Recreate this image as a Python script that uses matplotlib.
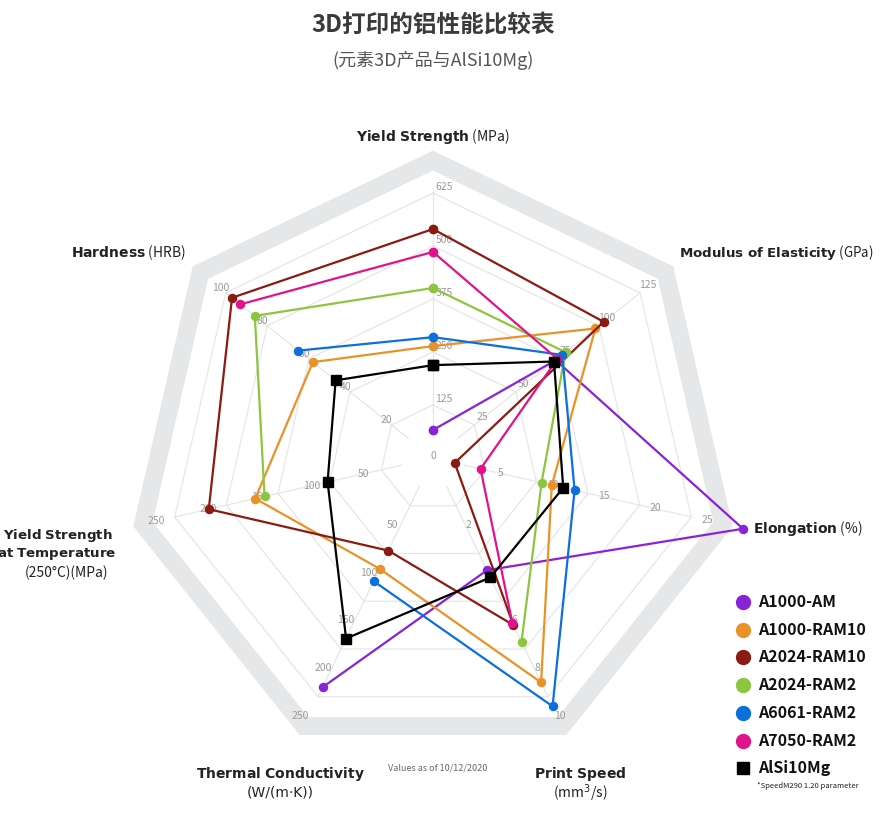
import numpy as np
import matplotlib
matplotlib.use("Agg")
import matplotlib.pyplot as plt
from matplotlib.patches import Polygon

plt.rcParams['font.family'] = ['Noto Sans CJK SC', 'DejaVu Sans']

axes_names = ["Yield Strength", "Modulus of Elasticity", "Elongation", "Print Speed",
              "Thermal Conductivity", "Yield Strength\nat Temperature", "Hardness"]
axes_units = ["(MPa)", "(GPa)", "(%)", "(mm$^3$/s)", "(W/(m·K))", "(250°C)(MPa)", "(HRB)"]
axes_max = [625, 125, 25, 10, 250, 250, 100]
tick_labels = [["125", "250", "375", "500", "625"],
               ["25", "50", "75", "100", "125"],
               ["5", "10", "15", "20", "25"],
               ["2", "4", "6", "8", "10"],
               ["50", "100", "150", "200", "250"],
               ["50", "100", "150", "200", "250"],
               ["20", "40", "60", "80", "100"]]

series_names = ["A1000-AM", "A1000-RAM10", "A2024-RAM10", "A2024-RAM2",
                "A6061-RAM2", "A7050-RAM2", "AlSi10Mg"]
# order: yield, modulus, elongation, speed, thermal, yield@T, hardness (None = missing)
a1000_am = [66, 74, 30, 4.7, 240, None, None]
a1000_ram10 = [264, 98, 11.5, 9.4, 116, 172, 58]
a2024_ram10 = [540, 103, 2.1, 7.0, 97, 217, 97]
a2024_ram2 = [401, 80, 10.5, 7.7, None, 163, 86]
a6061_ram2 = [285, 78, 13.7, 10.4, 129, None, 65]
a7050_ram2 = [486, 75, 4.6, 6.9, None, None, 93]
alsi10mg = [219, 73, 12.6, 5.0, 189, 102, 47]
series_values = [a1000_am, a1000_ram10, a2024_ram10, a2024_ram2, a6061_ram2, a7050_ram2, alsi10mg]
colors = ["#8a22d8", "#ea9228", "#8b1a12", "#8cc63f", "#0b6fdc", "#e0128c", "#000000"]

CX, CY, R = 433, 458, 265
n = 7
angles = np.deg2rad(90 - np.arange(n) * 360 / n)

def pos(i, frac):
    return CX + np.cos(angles[i]) * R * frac, CY - np.sin(angles[i]) * R * frac

fig = plt.figure(figsize=(8.89, 8.19), dpi=100)
ax = fig.add_axes([0, 0, 1, 1])
ax.set_xlim(0, 889)
ax.set_ylim(819, 0)
ax.axis('off')

# gray band
outer = [pos(i % n, 1.16) for i in range(n + 1)]
inner = [pos(i % n, 1.085) for i in range(n + 1)]
band = np.array(outer + inner[::-1])
ax.add_patch(Polygon(band, closed=True, fc="#e6e7e9", ec="none", zorder=0))

# grid
for k in range(1, 6):
    pts = np.array([pos(i % n, k / 5) for i in range(n + 1)])
    ax.plot(pts[:, 0], pts[:, 1], color="#e6e6e6", lw=0.9, zorder=1)
for i in range(n):
    p0 = pos(i, 0.12)
    p1 = pos(i, 1.0)
    ax.plot([p0[0], p1[0]], [p0[1], p1[1]], color="#e6e6e6", lw=0.9, zorder=1)

# tick labels
offsets = [(11, -6), (8, -8), (16, 3), (12, 19), (-18, 19), (-18, 4), (-5, -5)]
ax.text(CX, CY - 2, "0", ha="center", va="center", fontsize=7.5, color="#9a9a9a", zorder=2)
for i in range(n):
    for k in range(5):
        x, y = pos(i, (k + 1) / 5)
        ax.text(x + offsets[i][0], y + offsets[i][1], tick_labels[i][k], ha="center", va="center",
                fontsize=7.5, color="#9a9a9a", zorder=2)

# series
for name, vals, c in zip(series_names, series_values, colors):
    xs, ys = [], []
    for i, v in enumerate(list(vals) + [vals[0]]):
        ii = i % n
        if v is None:
            xs.append(np.nan); ys.append(np.nan)
        else:
            x, y = pos(ii, v / axes_max[ii])
            xs.append(x); ys.append(y)
    mk = "s" if name == "AlSi10Mg" else "o"
    ms = 6.5 if mk == "s" else 5.8
    ax.plot(xs, ys, color=c, lw=1.6, marker=mk, ms=ms, zorder=3)

fs = 10
ax.text(433, 137, r"$\bf{Yield\ Strength}$ (MPa)", ha="center", va="center", fontsize=fs, color="#222")
ax.text(679, 253, r"$\bf{Modulus\ of\ Elasticity}$ (GPa)", ha="left", va="center", fontsize=9.6, color="#222")
ax.text(753, 528, r"$\bf{Elongation}$ (%)", ha="left", va="center", fontsize=fs, color="#222")
ax.text(580, 774, r"$\bf{Print\ Speed}$", ha="center", va="center", fontsize=fs, color="#222")
ax.text(580, 793, r"(mm$^3$/s)", ha="center", va="center", fontsize=fs, color="#222")
ax.text(280, 774, r"$\bf{Thermal\ Conductivity}$", ha="center", va="center", fontsize=fs, color="#222")
ax.text(280, 793, "(W/(m·K))", ha="center", va="center", fontsize=fs, color="#222", family="DejaVu Sans")
ax.text(113, 535, r"$\bf{Yield\ Strength}$", ha="right", va="center", fontsize=9.6, color="#222")
ax.text(116, 554, r"$\bf{at\ Temperature}$", ha="right", va="center", fontsize=9.6, color="#222")
ax.text(108, 573, "(250°C)(MPa)", ha="right", va="center", fontsize=fs, color="#222")
ax.text(186, 253, r"$\bf{Hardness}$ (HRB)", ha="right", va="center", fontsize=fs, color="#222")

# titles
ax.text(433, 25, "3D打印的铝性能比较表", ha="center", va="center", fontsize=17, fontweight="bold", color="#3a3a3a")
ax.text(433, 60, "(元素3D产品与AlSi10Mg)", ha="center", va="center", fontsize=13, color="#555")
ax.text(438, 768, "Values as of 10/12/2020", ha="center", va="center", fontsize=6.5, style="italic", color="#666")

# legend
for j, (name, c) in enumerate(zip(series_names, colors)):
    y = 602 + j * 27.7
    mk = "s" if name == "AlSi10Mg" else "o"
    ax.plot([743], [y], marker=mk, color=c, ms=10 if mk == "o" else 9, ls="none")
    ax.text(758, y, name, ha="left", va="center", fontsize=11.5, fontweight="bold", color="#111")
ax.text(757, 786, "*SpeedM290 1.20 parameter", ha="left", va="center", fontsize=5.5, color="#222")

fig.savefig("out.png", dpi=100)
